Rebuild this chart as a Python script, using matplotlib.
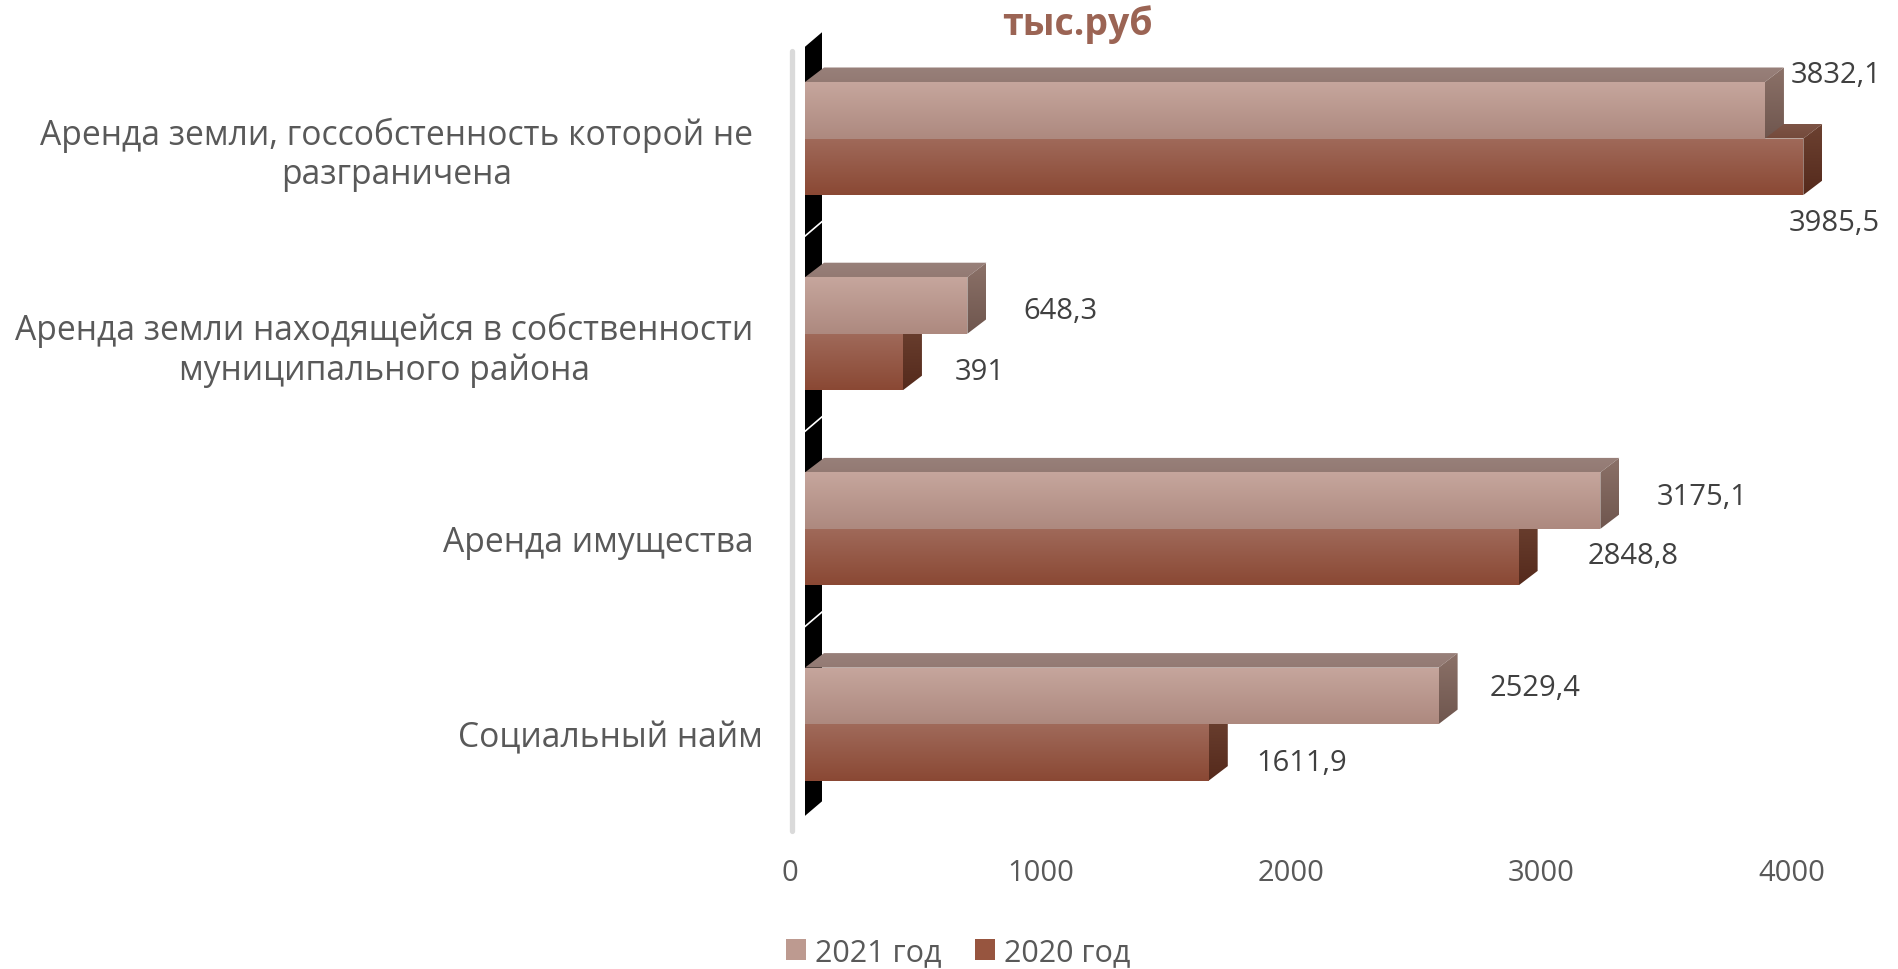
import matplotlib
matplotlib.use('Agg')
import matplotlib.pyplot as plt
import numpy as np
from matplotlib.patches import Polygon, Patch
from matplotlib.colors import LinearSegmentedColormap
import matplotlib.transforms as mtransforms

# ---------------- data ----------------
categories = ["Аренда земли, госсобстенность которой не\nразграничена",
              "Аренда земли находящейся в собственности\nмуниципального района",
              "Аренда имущества",
              "Социальный найм"]
series_names = ["2021 год", "2020 год"]
values_2021 = [3832.1, 648.3, 3175.1, 2529.4]
values_2020 = [3985.5, 391.0, 2848.8, 1611.9]
labels_2021 = ["3832,1", "648,3", "3175,1", "2529,4"]
labels_2020 = ["3985,5", "391", "2848,8", "1611,9"]
xticks = [0, 1000, 2000, 3000, 4000]
title = "тыс.руб"

# label offsets (pixels: right, up) relative to bar end / bar centre
off_2021 = [(26, 36), (56, -5), (56, 4), (51, 8)]
off_2020 = [(-15, -56), (52, -10), (69, 2), (48, -10)]
# extra horizontal shift (pixels) of category labels
cat_shift = [0, 0, 0, 10]

# ---------------- style ----------------
FONT = ['Open Sans', 'DejaVu Sans']
plt.rcParams['font.family'] = FONT
TXT = '#595959'
W, H = 1898, 970
fig = plt.figure(figsize=(W / 100, H / 100), dpi=100)

# pixel geometry of the plot
x0_px, px_per_unit = 805.0, 0.2505
y0_px, px_per_cat = 139.5, 195.2
xlim = (-60, 4300)
ylim = (-0.6, 3.6)
left_px = x0_px + xlim[0] * px_per_unit
right_px = x0_px + xlim[1] * px_per_unit
top_px = y0_px + ylim[0] * px_per_cat
bot_px = y0_px + ylim[1] * px_per_cat
ax = fig.add_axes([left_px / W, 1 - bot_px / H, (right_px - left_px) / W, (bot_px - top_px) / H])
ax.set_xlim(*xlim)
ax.set_ylim(ylim[1], ylim[0])
for s in ax.spines.values():
    s.set_visible(False)

bar_h = 56.5 / px_per_cat
ddx = 19 / px_per_unit
ddy = 14.5 / px_per_cat


def grad_poly(verts, c_top, c_bot, z):
    poly = Polygon(verts, closed=True, facecolor='none', edgecolor='none')
    ax.add_patch(poly)
    xs = [v[0] for v in verts]
    ys = [v[1] for v in verts]
    cmap = LinearSegmentedColormap.from_list('g', [c_top, c_bot])
    grad = np.linspace(0, 1, 256).reshape(-1, 1)
    im = ax.imshow(grad, cmap=cmap, extent=(min(xs), max(xs), max(ys), min(ys)),
                   origin='upper', aspect='auto', interpolation='bilinear', zorder=z)
    im.set_clip_path(poly)


def bar3d(v, yt, cols, z):
    yb = yt + bar_h
    front = [(0, yt), (v, yt), (v, yb), (0, yb)]
    top = [(0, yt), (v, yt), (v + ddx, yt - ddy), (ddx, yt - ddy)]
    side = [(v, yt), (v + ddx, yt - ddy), (v + ddx, yb - ddy), (v, yb)]
    grad_poly(top, cols['top'][0], cols['top'][1], z)
    grad_poly(side, cols['side'][0], cols['side'][1], z + 0.1)
    grad_poly(front, cols['front'][0], cols['front'][1], z + 0.2)


col21 = {'front': ('#c6a69d', '#ad897f'), 'top': ('#98807a', '#937a73'), 'side': ('#8b7168', '#6f564e')}
col20 = {'front': ('#a06a5a', '#8a4834'), 'top': ('#7d5446', '#744a3b'), 'side': ('#6c4131', '#552a1c')}

# left wall (3D side) and axis line
wall_w = 17 / px_per_unit
wall = Polygon([(0, -0.47), (wall_w, -0.47 - ddy), (wall_w, 3.47 - ddy), (0, 3.47)],
               closed=True, facecolor='black', edgecolor='none', zorder=1)
ax.add_patch(wall)
for b in [0.5, 1.5, 2.5]:
    ax.plot([0, wall_w], [b, b - ddy], color='white', lw=1.2, zorder=1.5)
ax.plot([-52, -52], [-0.45, 3.55], color='#dadada', lw=3.8, solid_capstyle='round',
        clip_on=False, zorder=1)

for i in range(len(categories)):
    bar3d(values_2020[i], i, col20, 2 + i)
    bar3d(values_2021[i], i - bar_h, col21, 2.5 + i)

# data labels
for i in range(len(categories)):
    ax.annotate(labels_2021[i], xy=(values_2021[i], i - bar_h / 2), xytext=off_2021[i],
                textcoords='offset pixels', ha='left', va='center', fontsize=21,
                color='#404040', zorder=10)
    ax.annotate(labels_2020[i], xy=(values_2020[i], i + bar_h / 2), xytext=off_2020[i],
                textcoords='offset pixels', ha='left', va='center', fontsize=21,
                color='#404040', zorder=10)

# axes ticks
ax.set_xticks(xticks)
ax.set_xticklabels([str(t) for t in xticks], fontsize=21, color=TXT)
ax.set_yticks(range(len(categories)))
ax.set_yticklabels(categories, fontsize=24.2, color=TXT, multialignment='center')
ax.tick_params(axis='x', length=0, pad=12)
ax.tick_params(axis='y', length=0, pad=26.5)
offx = mtransforms.ScaledTranslation(-15 / 100, 0, fig.dpi_scale_trans)
for lab in ax.get_xticklabels():
    lab.set_transform(lab.get_transform() + offx)
for lab, sh in zip(ax.get_yticklabels(), cat_shift):
    offy = mtransforms.ScaledTranslation(sh / 100, -9 / 100, fig.dpi_scale_trans)
    lab.set_transform(lab.get_transform() + offy)

# title
fig.text(1077 / W, 1 - 24.5 / H, title, ha='center', va='center', fontsize=27,
         fontweight='bold', color='#9b6454')

# legend
handles = [Patch(facecolor='#bd9a90', edgecolor='none'), Patch(facecolor='#97553f', edgecolor='none')]
fig.legend(handles, series_names, loc='center', bbox_to_anchor=(958 / W, 1 - 953 / H),
           ncol=2, frameon=False, fontsize=22, handlelength=0.65, handleheight=0.7,
           handletextpad=0.3, columnspacing=1.1, labelcolor=TXT)

fig.savefig('out.png', dpi=100)
